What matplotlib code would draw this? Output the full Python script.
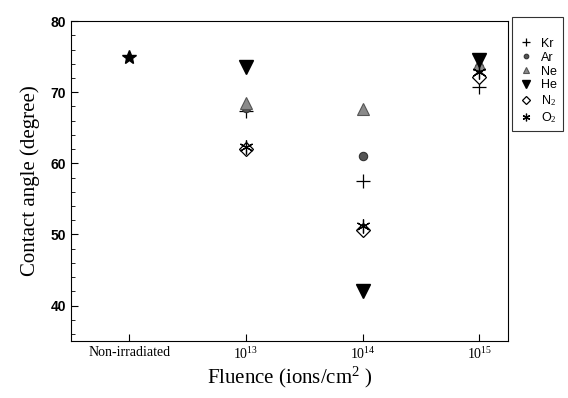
import numpy as np
import matplotlib
matplotlib.use('Agg')
import matplotlib.pyplot as plt
from matplotlib.ticker import MultipleLocator

plt.rcParams['mathtext.fontset'] = 'custom'
plt.rcParams['mathtext.rm'] = 'Liberation Serif'
plt.rcParams['mathtext.it'] = 'Liberation Serif:italic'

# data
xlabels = ['Non-irradiated', '$10^{13}$', '$10^{14}$', '$10^{15}$']
x_irr = [1, 2, 3]
pristine = [75.0]
Kr = [67.3, 57.5, 70.7]
Ar = [67.8, 61.0, 73.5]
Ne = [68.5, 67.6, 74.0]
He = [73.5, 42.0, 74.5]
N2 = [62.0, 50.6, 72.2]
O2 = [62.3, 51.2, 72.9]

fig = plt.figure(figsize=(5.68, 3.98), dpi=100)
ax = fig.add_axes([0.125, 0.143, 0.770, 0.804])

ax.plot([0], pristine, ls='none', marker='*', ms=10, color='black', zorder=5)
ax.plot(x_irr, Kr, ls='none', marker='+', ms=10, mew=0.9, color='black', label='Kr', zorder=3)
ax.plot(x_irr, Ar, ls='none', marker='o', ms=6, mfc='#555555', mec='#333333', mew=0.8, label='Ar', zorder=3)
ax.plot(x_irr, Ne, ls='none', marker='^', ms=8, mfc='#8a8a8a', mec='#555555', mew=0.8, label='Ne', zorder=4)
ax.plot(x_irr, He, ls='none', marker='v', ms=10, color='black', label='He', zorder=6)
ax.plot(x_irr, N2, ls='none', marker='D', ms=7, mfc='white', mec='black', mew=0.9, label='N$_2$', zorder=4)
ax.plot(x_irr, O2, ls='none', marker=(6, 2, 0), ms=10, color='black', mew=0.9, label='O$_2$', zorder=5)

ax.set_xlim(-0.5, 3.25)
ax.set_ylim(35, 80)
ax.set_xticks([0, 1, 2, 3])
ax.set_xticklabels(xlabels, family='Liberation Serif', fontsize=10)
ax.set_yticks([40, 50, 60, 70, 80])
ax.yaxis.set_minor_locator(MultipleLocator(2))
for t in ax.get_yticklabels():
    t.set_fontweight('bold')
    t.set_family('Liberation Sans')
    t.set_fontsize(10)
ax.tick_params(axis='both', which='both', direction='in')
ax.tick_params(axis='y', which='major', length=5)
ax.tick_params(axis='y', which='minor', length=3)
ax.tick_params(axis='x', which='major', length=5)

ax.set_xlabel('Fluence (ions/cm$^2$ )', family='Liberation Serif', fontsize=15, labelpad=2)
ax.set_ylabel('Contact angle (degree)', family='Liberation Serif', fontsize=15, labelpad=8)

leg = fig.legend(loc='upper left', bbox_to_anchor=(0.902, 0.958), frameon=True,
                 fancybox=False, edgecolor='black', prop={'family': 'Liberation Sans', 'size': 9},
                 title=' ', title_fontsize=9,
                 handlelength=1.2, handletextpad=0.6, labelspacing=0.15, borderpad=0.5,
                 markerscale=0.55, borderaxespad=0)
leg.get_frame().set_linewidth(0.8)

fig.savefig('out.png', dpi=100)
